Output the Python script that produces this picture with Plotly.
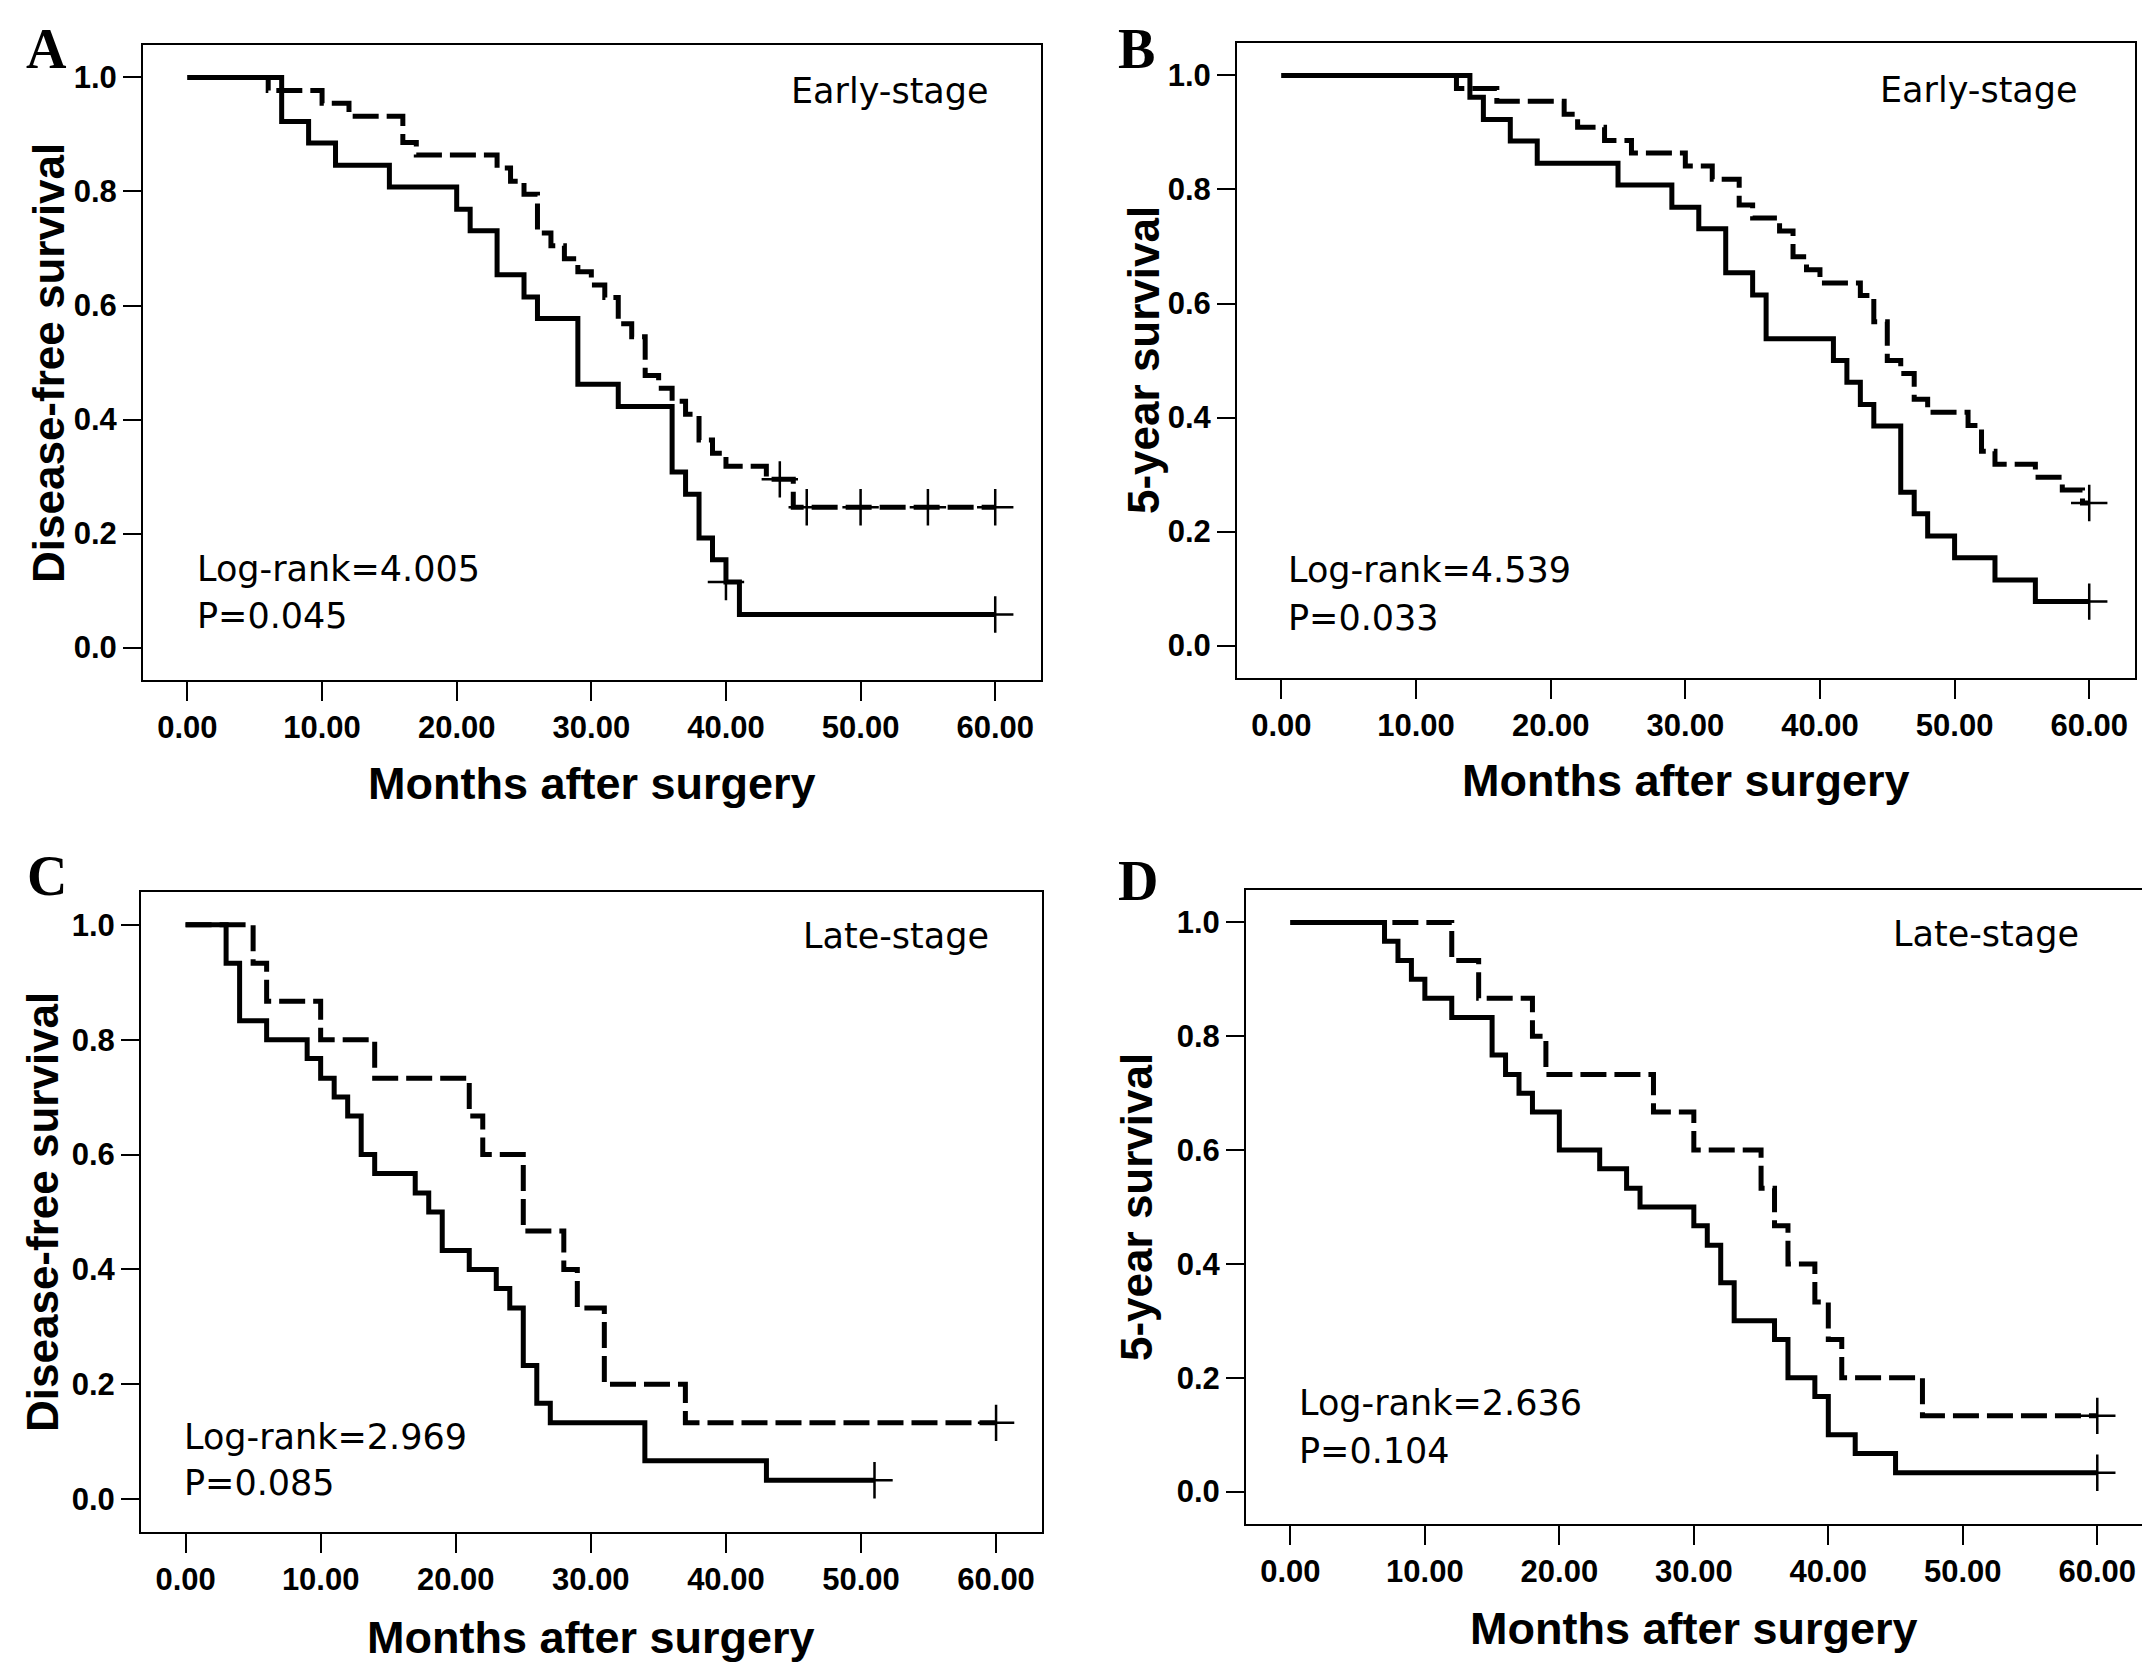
import plotly.graph_objects as go

# ---------------- data ----------------
# Panel A: Disease-free survival, early stage
A_solid_t = [7, 9, 11, 15, 20, 21, 23, 25, 26, 29, 32, 36, 37, 38, 39, 40, 41]
A_solid_s = [0.923, 0.885, 0.846, 0.808, 0.769, 0.731, 0.654, 0.615, 0.577, 0.462, 0.423,
             0.308, 0.269, 0.192, 0.154, 0.115, 0.058]
A_solid_cens_t = [40, 60]
A_solid_cens_s = [0.115, 0.058]
A_dash_t = [6, 10, 12, 16, 17, 23, 24, 25, 26, 27, 28, 29, 30, 31, 32, 33, 34, 35, 36, 37,
            38, 39, 40, 43, 45]
A_dash_s = [0.977, 0.955, 0.932, 0.886, 0.864, 0.841, 0.818, 0.795, 0.727, 0.705, 0.682,
            0.659, 0.636, 0.614, 0.568, 0.545, 0.477, 0.455, 0.432, 0.409, 0.364, 0.341,
            0.318, 0.295, 0.246]
A_dash_cens_t = [44, 46, 50, 55, 60]
A_dash_cens_s = [0.295, 0.246, 0.246, 0.246, 0.246]

# Panel B: 5-year survival, early stage
B_solid_t = [14, 15, 17, 19, 25, 29, 31, 33, 35, 36, 41, 42, 43, 44, 46, 47, 48, 50, 53, 56]
B_solid_s = [0.962, 0.923, 0.885, 0.846, 0.808, 0.769, 0.731, 0.654, 0.615, 0.538, 0.500,
             0.462, 0.423, 0.385, 0.269, 0.231, 0.192, 0.154, 0.115, 0.077]
B_solid_cens_t = [60]
B_solid_cens_s = [0.077]
B_dash_t = [13, 16, 21, 22, 24, 26, 30, 32, 34, 35, 37, 38, 39, 40, 43, 44, 45, 46, 47, 48,
            51, 52, 53, 56, 58, 59.5]
B_dash_s = [0.977, 0.955, 0.932, 0.909, 0.886, 0.864, 0.841, 0.818, 0.773, 0.750, 0.727,
            0.682, 0.659, 0.636, 0.614, 0.568, 0.500, 0.477, 0.432, 0.409, 0.386, 0.341,
            0.318, 0.295, 0.273, 0.250]
B_dash_cens_t = [60]
B_dash_cens_s = [0.250]

# Panel C: Disease-free survival, late stage
C_solid_t = [3, 4, 6, 9, 10, 11, 12, 13, 14, 17, 18, 19, 21, 23, 24, 25, 26, 27, 34, 43]
C_solid_s = [0.933, 0.833, 0.800, 0.767, 0.733, 0.700, 0.667, 0.600, 0.567, 0.533, 0.500,
             0.433, 0.400, 0.367, 0.333, 0.233, 0.167, 0.133, 0.067, 0.033]
C_solid_cens_t = [51]
C_solid_cens_s = [0.033]
C_dash_t = [5, 6, 10, 14, 21, 22, 25, 28, 29, 31, 37]
C_dash_s = [0.933, 0.867, 0.800, 0.733, 0.667, 0.600, 0.467, 0.400, 0.333, 0.200, 0.133]
C_dash_cens_t = [60]
C_dash_cens_s = [0.133]

# Panel D: 5-year survival, late stage
D_solid_t = [7, 8, 9, 10, 12, 15, 16, 17, 18, 20, 23, 25, 26, 30, 31, 32, 33, 36, 37, 39,
             40, 42, 45]
D_solid_s = [0.967, 0.933, 0.900, 0.867, 0.833, 0.767, 0.733, 0.700, 0.667, 0.600, 0.567,
             0.533, 0.500, 0.467, 0.433, 0.367, 0.300, 0.267, 0.200, 0.167, 0.100, 0.067,
             0.033]
D_solid_cens_t = [60]
D_solid_cens_s = [0.033]
D_dash_t = [12, 14, 18, 19, 27, 30, 35, 36, 37, 39, 40, 41, 47]
D_dash_s = [0.933, 0.867, 0.800, 0.733, 0.667, 0.600, 0.533, 0.467, 0.400, 0.333, 0.267,
            0.200, 0.133]
D_dash_cens_t = [60]
D_dash_cens_s = [0.133]

panel_letters = ["A", "B", "C", "D"]
y_titles = ["Disease-free survival", "5-year survival", "Disease-free survival", "5-year survival"]
x_title = "Months after surgery"
stage_labels = ["Early-stage", "Early-stage", "Late-stage", "Late-stage"]
logrank_labels = ["Log-rank=4.005", "Log-rank=4.539", "Log-rank=2.969", "Log-rank=2.636"]
p_labels = ["P=0.045", "P=0.033", "P=0.085", "P=0.104"]
x_tick_vals = [0, 10, 20, 30, 40, 50, 60]
x_tick_text = ["0.00", "10.00", "20.00", "30.00", "40.00", "50.00", "60.00"]
y_tick_vals = [0.0, 0.2, 0.4, 0.6, 0.8, 1.0]
y_tick_text = ["0.0", "0.2", "0.4", "0.6", "0.8", "1.0"]

# ---------------- layout geometry (pixels) ----------------
W, H = 2150, 1669
# box: left, right, top, bottom
boxes = [(135, 1033, 37, 672), (1229, 2127, 35, 670),
         (133, 1034, 884, 1524), (1238, 2135, 882, 1516)]
letter_pos = [(38, 41), (1128, 41), (39, 868), (1130, 873)]
ytitle_pos = [(41, 355), (1135, 352), (34, 1204), (1128, 1199)]
xtitle_pos = [(584, 775), (1678, 773), (583, 1629), (1686, 1620)]
# text positions in data units: (x_left, y_logrank, y_p), (x_right, y_stage)
txt_left = [(0.55, 0.1375, 0.0545), (0.37, 0.133, 0.0475), (-0.3, 0.109, 0.0275), (0.5, 0.155, 0.071)]
txt_right = [(59.7, 0.9765), (59.3, 0.974), (59.6, 0.98), (58.8, 0.98)]

XR = [-3.3, 63.4]
YR = [-0.057, 1.057]

fig = go.Figure()

LINE_W = 5
DASH = "26px,8px"

def step_xy(t, s, t_end):
    xs = [0] + list(t) + [t_end]
    ys = [1.0] + list(s) + [s[-1]]
    return xs, ys

series = [
    (A_solid_t, A_solid_s, A_solid_cens_t, A_solid_cens_s, A_dash_t, A_dash_s, A_dash_cens_t, A_dash_cens_s),
    (B_solid_t, B_solid_s, B_solid_cens_t, B_solid_cens_s, B_dash_t, B_dash_s, B_dash_cens_t, B_dash_cens_s),
    (C_solid_t, C_solid_s, C_solid_cens_t, C_solid_cens_s, C_dash_t, C_dash_s, C_dash_cens_t, C_dash_cens_s),
    (D_solid_t, D_solid_s, D_solid_cens_t, D_solid_cens_s, D_dash_t, D_dash_s, D_dash_cens_t, D_dash_cens_s),
]

tick_font = dict(family="Liberation Sans, Arial, sans-serif", size=31, color="black", weight="bold")
layout_axes = {}
annotations = []

for i, (st, ss, sct, scs, dt, ds, dct, dcs) in enumerate(series):
    n = "" if i == 0 else str(i + 1)
    xa, ya = "x" + n, "y" + n
    # dashed curve
    xs, ys = step_xy(dt, ds, max(dct))
    fig.add_trace(go.Scatter(x=xs, y=ys, mode="lines", line_shape="hv",
                             line=dict(color="black", width=LINE_W, dash=DASH),
                             xaxis=xa, yaxis=ya, showlegend=False, hoverinfo="skip"))
    fig.add_trace(go.Scatter(x=dct, y=dcs, mode="markers",
                             marker=dict(symbol="cross-thin", size=26, color="black",
                                         line=dict(color="black", width=2.5)),
                             xaxis=xa, yaxis=ya, showlegend=False, hoverinfo="skip"))
    # solid curve
    xs, ys = step_xy(st, ss, max(sct))
    fig.add_trace(go.Scatter(x=xs, y=ys, mode="lines", line_shape="hv",
                             line=dict(color="black", width=LINE_W),
                             xaxis=xa, yaxis=ya, showlegend=False, hoverinfo="skip"))
    fig.add_trace(go.Scatter(x=sct, y=scs, mode="markers",
                             marker=dict(symbol="cross-thin", size=26, color="black",
                                         line=dict(color="black", width=2.5)),
                             xaxis=xa, yaxis=ya, showlegend=False, hoverinfo="skip"))

    l, r, t, b = boxes[i]
    layout_axes["xaxis" + n] = dict(
        domain=[l / W, r / W], anchor=ya, range=XR, tickmode="array",
        tickvals=x_tick_vals, ticktext=x_tick_text, ticks="outside", ticklen=19,
        tickwidth=2, tickcolor="black", showline=True, linecolor="black", linewidth=2,
        mirror=True, showgrid=False, zeroline=False, tickfont=tick_font)
    layout_axes["yaxis" + n] = dict(
        domain=[1 - b / H, 1 - t / H], anchor=xa, range=YR, tickmode="array",
        tickvals=y_tick_vals, ticktext=y_tick_text, ticks="outside", ticklen=18,
        tickwidth=2, tickcolor="black", showline=True, linecolor="black", linewidth=2,
        mirror=True, showgrid=False, zeroline=False, tickfont=tick_font)

    # panel letter
    lx, ly = letter_pos[i]
    annotations.append(dict(text=panel_letters[i], x=lx / W, y=1 - ly / H, xref="paper", yref="paper",
                            xanchor="center", yanchor="middle", showarrow=False,
                            font=dict(family="Liberation Serif, Times New Roman, serif", size=56,
                                      color="black", weight="bold")))
    # axis titles
    tx, ty = ytitle_pos[i]
    annotations.append(dict(text=y_titles[i], x=tx / W, y=1 - ty / H, xref="paper", yref="paper",
                            xanchor="center", yanchor="middle", showarrow=False, textangle=-90,
                            font=dict(family="Liberation Sans, Arial, sans-serif", size=44,
                                      color="black", weight="bold")))
    tx, ty = xtitle_pos[i]
    annotations.append(dict(text=x_title, x=tx / W, y=1 - ty / H, xref="paper", yref="paper",
                            xanchor="center", yanchor="middle", showarrow=False,
                            font=dict(family="Liberation Sans, Arial, sans-serif", size=45,
                                      color="black", weight="bold")))
    # in-plot texts
    txf = dict(family="DejaVu Sans, sans-serif", size=35, color="black")
    x0, y1, y2 = txt_left[i]
    annotations.append(dict(text=logrank_labels[i], x=x0, y=y1, xref=xa, yref=ya,
                            xanchor="left", yanchor="middle", showarrow=False, font=txf))
    annotations.append(dict(text=p_labels[i], x=x0, y=y2, xref=xa, yref=ya,
                            xanchor="left", yanchor="middle", showarrow=False, font=txf))
    xr_, ys_ = txt_right[i]
    annotations.append(dict(text=stage_labels[i], x=xr_, y=ys_, xref=xa, yref=ya,
                            xanchor="right", yanchor="middle", showarrow=False, font=txf))

fig.update_layout(width=W, height=H, margin=dict(l=0, r=0, t=0, b=0),
                  paper_bgcolor="white", plot_bgcolor="white",
                  annotations=annotations, **layout_axes)

fig.write_html("out.html")
